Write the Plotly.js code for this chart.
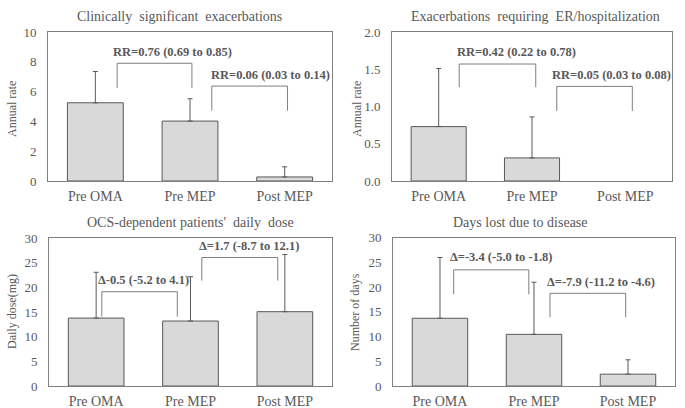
<!DOCTYPE html>
<html><head><meta charset="utf-8">
<script src="https://cdn.plot.ly/plotly-3.0.1.min.js"></script>
<style>html,body{margin:0;padding:0;background:#fff}#chart{width:685px;height:408px}</style>
</head><body><div id="chart"></div>
<script>
// ---- data ----
const categories = ["Pre OMA", "Pre MEP", "Post MEP"];
const panelTitles = ["Clinically  significant  exacerbations", "Exacerbations  requiring  ER/hospitalization", "OCS-dependent patients'  daily  dose", "Days lost due to disease"];
const yTitles = ["Annual rate", "Annual rate", "Daily dose(mg)", "Number of days"];
const meanCSE = [5.25, 4.02, 0.27];
const sdCSE = [2.1, 1.5, 0.68];
const meanER = [0.73, 0.31, 0.0];
const sdER = [0.78, 0.55, null];
const meanOCS = [13.8, 13.2, 15.1];
const sdOCS = [9.3, 9.0, 11.6];
const meanDays = [13.7, 10.45, 2.4];
const sdDays = [12.3, 10.55, 2.9];
const comparisonLabels = [
  ["RR=0.76 (0.69 to 0.85)", "RR=0.06 (0.03 to 0.14)"],
  ["RR=0.42 (0.22 to 0.78)", "RR=0.05 (0.03 to 0.08)"],
  ["\u0394-0.5 (-5.2 to 4.1)", "\u0394=1.7 (-8.7 to 12.1)"],
  ["\u0394=-3.4 (-5.0 to -1.8)", "\u0394=-7.9 (-11.2 to -4.6)"]
];
// bracket: [left x, right x, top y, bottom y] (data units)
const brackets = [
  [[0.23, 1.02, 7.9, 6.25], [1.23, 2.03, 6.37, 4.72]],
  [[0.22, 1.04, 1.57, 1.26], [1.265, 2.075, 1.27, 0.94]],
  [[0.06, 0.86, 19.15, 14.1], [1.12, 1.925, 26.1, 21.4]],
  [[0.146, 0.945, 23.5, 18.55], [1.17, 1.975, 18.75, 13.9]]
];
// label anchor: [x left, y center]
const labelPos = [
  [[0.165, 8.66], [1.20, 7.11]],
  [[0.175, 1.727], [1.195, 1.419]],
  [[0.0, 21.5], [1.07, 28.5]],
  [[0.09, 26.0], [1.12, 21.1]]
];
const yRanges = [[0, 10], [0, 2], [0, 30], [0, 30]];
const yDticks = [2, 0.5, 5, 5];

// ---- layout ----
const means = [meanCSE, meanER, meanOCS, meanDays];
const sds = [sdCSE, sdER, sdOCS, sdDays];
const xDomains = [[0.0701, 0.4847], [0.5723, 0.981], [0.0715, 0.4847], [0.5737, 0.9854]];
const yDomains = [[0.5564, 0.9216], [0.5564, 0.9216], [0.0539, 0.4159], [0.0539, 0.4174]];
const titlePos = [[179, 17], [535, 17], [190.5, 223], [520, 223]];
const yTitlePos = [[12, 109], [357, 109], [12, 312], [355, 312]];
const FONT = "Liberation Serif, Times New Roman, serif";
const TXT = "#595959";

const traces = [];
const layout = {
  width: 685, height: 408, margin: {l: 0, r: 0, t: 0, b: 0},
  paper_bgcolor: "#fff", plot_bgcolor: "#fff", showlegend: false,
  font: {family: FONT, color: TXT, size: 13},
  shapes: [], annotations: [], bargap: 0.41
};
for (let i = 0; i < 4; i++) {
  const sfx = i === 0 ? "" : String(i + 1);
  traces.push({
    type: "bar", x: [0, 1, 2], y: means[i],
    xaxis: "x" + sfx, yaxis: "y" + sfx,
    marker: {color: "#d9d9d9", line: {color: "#595959", width: means[i].map(v => v > 0 ? 1 : 0)}},
    error_y: {type: "data", symmetric: false,
              array: sds[i].map(v => v == null ? "none" : v),
              arrayminus: sds[i].map(v => v == null ? "none" : 0),
              color: "#595959", thickness: 1, width: 2.5},
    hoverinfo: "none"
  });
  layout["xaxis" + sfx] = {
    domain: xDomains[i], anchor: "y" + sfx, range: [-0.5, 2.5],
    tickmode: "array", tickvals: [0, 1, 2], ticktext: categories,
    showline: true, mirror: true, linecolor: "#808080", linewidth: 1,
    showgrid: false, zeroline: false, ticks: "", ticklabelstandoff: 2,
    tickfont: {family: FONT, size: 14, color: TXT}, fixedrange: true
  };
  layout["yaxis" + sfx] = {
    domain: yDomains[i], anchor: "x" + sfx, range: yRanges[i], dtick: yDticks[i],
    tickformat: i === 1 ? ".1f" : "d",
    showline: true, mirror: true, linecolor: "#808080", linewidth: 1,
    showgrid: false, zeroline: false, ticks: "", ticklabelstandoff: 8,
    tickfont: {family: FONT, size: 13, color: TXT}, fixedrange: true
  };
  for (let k = 0; k < 2; k++) {
    const b = brackets[i][k];
    layout.shapes.push({
      type: "path", xref: "x" + sfx, yref: "y" + sfx,
      path: `M ${b[0]},${b[3]} L ${b[0]},${b[2]} L ${b[1]},${b[2]} L ${b[1]},${b[3]}`,
      line: {color: "#7f7f7f", width: 1}
    });
    layout.annotations.push({
      xref: "x" + sfx, yref: "y" + sfx, x: labelPos[i][k][0], y: labelPos[i][k][1],
      xanchor: "left", yanchor: "middle", showarrow: false,
      text: "<b>" + comparisonLabels[i][k] + "</b>",
      font: {family: FONT, size: 12.5, color: TXT}
    });
  }
  layout.annotations.push({
    xref: "paper", yref: "paper", x: titlePos[i][0] / 685, y: 1 - titlePos[i][1] / 408,
    xanchor: "center", yanchor: "middle", showarrow: false,
    text: panelTitles[i].replace(/  /g, " \u00a0"), font: {family: FONT, size: 14, color: TXT}
  });
  layout.annotations.push({
    xref: "paper", yref: "paper", x: yTitlePos[i][0] / 685, y: 1 - yTitlePos[i][1] / 408,
    xanchor: "center", yanchor: "middle", showarrow: false, textangle: -90,
    text: yTitles[i], font: {family: FONT, size: 12, color: TXT}
  });
}
Plotly.newPlot("chart", traces, layout, {staticPlot: true});
</script></body></html>
